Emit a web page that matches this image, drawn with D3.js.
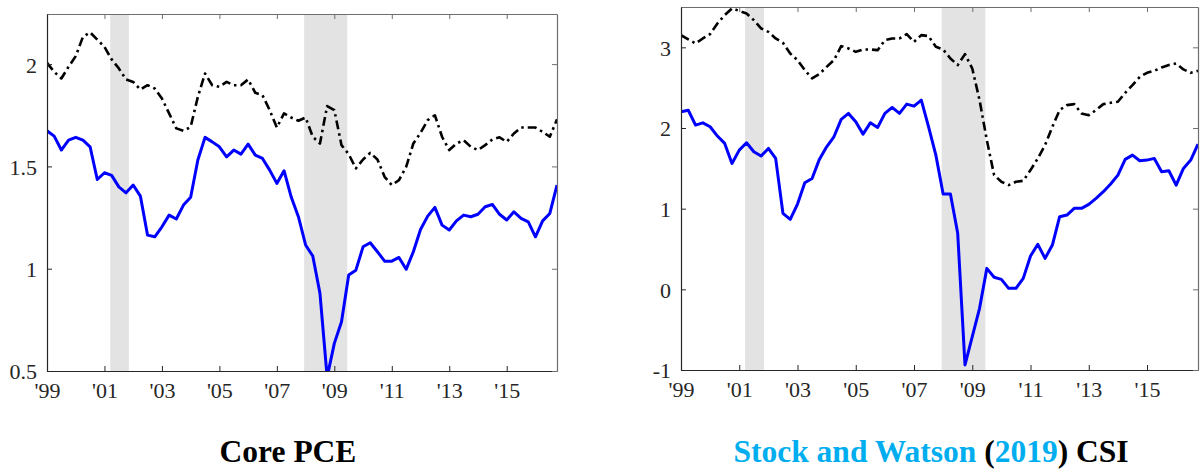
<!DOCTYPE html>
<html>
<head>
<meta charset="utf-8">
<script src="https://cdn.jsdelivr.net/npm/d3@7"></script>
</head>
<body style="margin:0">
<svg id="fig" width="1203" height="473" style="display:block"></svg>
<script>
// Quarterly observations 1999Q1 .. 2016Q4
const startYear = 1999;
const nQuarters = 72;

// Core PCE panel
const pceSolid = [1.674,1.648,1.58,1.628,1.642,1.628,1.596,1.436,1.469,1.456,1.40,1.371,1.409,1.355,1.164,1.156,
  1.205,1.262,1.243,1.311,1.349,1.531,1.642,1.62,1.596,1.547,1.58,1.56,1.609,1.555,1.539,1.482,
  1.417,1.479,1.35,1.254,1.116,1.062,0.88,0.47,0.635,0.741,0.969,0.993,1.107,1.127,1.083,1.037,
  1.037,1.055,0.997,1.083,1.192,1.257,1.30,1.213,1.189,1.234,1.262,1.254,1.266,1.303,1.314,1.266,
  1.238,1.278,1.246,1.229,1.156,1.234,1.27,1.409];
const pceDashed = [2.006,1.962,1.93,1.987,2.039,2.133,2.155,2.12,2.084,2.023,1.979,1.925,1.913,1.876,1.897,1.881,
  1.832,1.759,1.686,1.674,1.693,1.84,1.954,1.897,1.889,1.913,1.897,1.897,1.925,1.86,1.848,1.775,
  1.69,1.759,1.739,1.723,1.739,1.645,1.612,1.795,1.775,1.604,1.56,1.49,1.534,1.566,1.534,1.449,
  1.409,1.433,1.498,1.612,1.664,1.726,1.75,1.645,1.58,1.612,1.628,1.596,1.58,1.604,1.632,1.642,
  1.62,1.661,1.69,1.69,1.69,1.669,1.645,1.73];

// Stock and Watson (2019) CSI panel
const csiSolid = [2.20,2.22,2.036,2.064,2.015,1.90,1.809,1.561,1.726,1.817,1.705,1.652,1.747,1.623,0.942,0.867,
  1.057,1.321,1.375,1.611,1.767,1.891,2.107,2.181,2.077,1.924,2.064,2.007,2.181,2.255,2.181,2.296,
  2.271,2.346,2.015,1.664,1.181,1.181,0.694,-0.938,-0.587,-0.235,0.26,0.149,0.124,0.012,0.012,0.136,
  0.413,0.558,0.384,0.549,0.90,0.921,1.004,1.004,1.053,1.128,1.21,1.305,1.416,1.611,1.664,1.594,
  1.602,1.623,1.457,1.47,1.292,1.499,1.602,1.80];
const csiDashed = [3.15,3.098,3.048,3.11,3.164,3.296,3.399,3.482,3.452,3.42,3.337,3.234,3.192,3.11,3.056,2.924,
  2.841,2.717,2.615,2.668,2.758,2.841,3.015,2.986,2.944,2.974,2.974,2.965,3.089,3.11,3.11,3.164,
  3.068,3.151,3.139,3.006,2.974,2.862,2.78,2.916,2.738,2.346,1.85,1.416,1.333,1.292,1.333,1.346,
  1.478,1.623,1.788,2.015,2.222,2.284,2.296,2.181,2.159,2.222,2.296,2.312,2.325,2.436,2.532,2.634,
  2.684,2.709,2.75,2.78,2.8,2.726,2.684,2.709];

const recessions = [[2001.2, 2001.85], [2007.95, 2009.45]];
const xTickValues = [1999, 2001, 2003, 2005, 2007, 2009, 2011, 2013, 2015];
const xTickLabels = ["'99", "'01", "'03", "'05", "'07", "'09", "'11", "'13", "'15"];
const pceYTicks = [0.5, 1, 1.5, 2];
const pceYLabels = ["0.5", "1", "1.5", "2"];
const csiYTicks = [-1, 0, 1, 2, 3];
const csiYLabels = ["-1", "0", "1", "2", "3"];

const dates = d3.range(nQuarters).map(i => startYear + i / 4);
const serif = '"Liberation Serif"';

const svg = d3.select("#fig");

function setSerif(sel) {
  sel.style("font-family", serif, "important");
}

function panel(opts) {
  const { x0, x1, y0, y1, yDomain, yTicks, yLabels, solid, dashed, id } = opts;
  const x = d3.scaleLinear().domain([startYear, dates[dates.length - 1]]).range([x0, x1]);
  const y = d3.scaleLinear().domain(yDomain).range([y1, y0]);
  const g = svg.append("g");

  g.append("clipPath").attr("id", id).append("rect")
    .attr("x", x0).attr("y", y0).attr("width", x1 - x0).attr("height", y1 - y0);

  // recession shading
  g.selectAll("rect.rec").data(recessions).enter().append("rect")
    .attr("class", "rec")
    .attr("x", d => x(d[0])).attr("width", d => x(d[1]) - x(d[0]))
    .attr("y", y0).attr("height", y1 - y0)
    .attr("fill", "#e3e3e3");

  const line = d3.line().x((d, i) => x(dates[i])).y(d => y(d));
  const lines = g.append("g").attr("clip-path", `url(#${id})`);
  lines.append("path").datum(dashed).attr("d", line)
    .attr("fill", "none").attr("stroke", "#000").attr("stroke-width", 2.6)
    .attr("stroke-dasharray", "9,4,2.5,4").attr("stroke-linejoin", "round");
  lines.append("path").datum(solid).attr("d", line)
    .attr("fill", "none").attr("stroke", "#0000ff").attr("stroke-width", 3)
    .attr("stroke-linejoin", "round");

  // axes (inward ticks, box)
  const axisColor = "#262626";
  const xb = d3.axisBottom(x).tickValues(xTickValues).tickFormat((d, i) => xTickLabels[i])
    .tickSizeInner(-5).tickSizeOuter(0).tickPadding(11);
  const gx = g.append("g").attr("transform", `translate(0,${y1})`).call(xb);
  const xt = d3.axisTop(x).tickValues(xTickValues).tickFormat("")
    .tickSizeInner(-5).tickSizeOuter(0);
  const gxt = g.append("g").attr("transform", `translate(0,${y0})`).call(xt);
  const yl = d3.axisLeft(y).tickValues(yTicks).tickFormat((d, i) => yLabels[i])
    .tickSizeInner(-5).tickSizeOuter(0).tickPadding(10);
  const gy = g.append("g").attr("transform", `translate(${x0},0)`).call(yl);
  const yr = d3.axisRight(y).tickValues(yTicks).tickFormat("")
    .tickSizeInner(-5).tickSizeOuter(0);
  const gyr = g.append("g").attr("transform", `translate(${x1},0)`).call(yr);

  [gx, gy].forEach(a => {
    a.attr("font-family", "Liberation Serif").attr("font-size", 22);
    setSerif(a);
    a.select(".domain").attr("stroke", axisColor).attr("stroke-width", 1.2);
    a.selectAll(".tick line").attr("stroke", axisColor).attr("stroke-width", 1);
    const t = a.selectAll(".tick text").attr("fill", "#262626");
    setSerif(t);
  });
  [gxt, gyr].forEach(a => {
    a.select(".domain").attr("stroke", "#6e6e6e").attr("stroke-width", 1.2);
    a.selectAll(".tick line").attr("stroke", "#6e6e6e").attr("stroke-width", 1);
  });
  gx.selectAll(".tick text").attr("dy", "0.71em");
  gy.selectAll(".tick text").attr("dy", "0.36em");
}

panel({ id: "clipL", x0: 47, x1: 557, y0: 14, y1: 371, yDomain: [0.5, 2.245],
  yTicks: pceYTicks, yLabels: pceYLabels, solid: pceSolid, dashed: pceDashed });
panel({ id: "clipR", x0: 681, x1: 1198, y0: 7, y1: 370, yDomain: [-1, 3.5],
  yTicks: csiYTicks, yLabels: csiYLabels, solid: csiSolid, dashed: csiDashed });

// titles
const t1 = svg.append("text").attr("x", 288).attr("y", 462).attr("text-anchor", "middle")
  .attr("font-family", "Liberation Serif").attr("font-size", 31.5).attr("font-weight", "bold")
  .attr("fill", "#000")
  .text("Core PCE");
setSerif(t1);

const cyan = "#00aeef";
const t2 = svg.append("text").attr("x", 931).attr("y", 462).attr("text-anchor", "middle")
  .attr("font-family", "Liberation Serif").attr("font-size", 31.5).attr("font-weight", "bold")
  .attr("fill", "#000");
setSerif(t2);
t2.append("tspan").attr("fill", cyan).text("Stock and Watson");
t2.append("tspan").text(" (");
t2.append("tspan").attr("fill", cyan).text("2019");
t2.append("tspan").text(") CSI");
</script>
</body>
</html>
